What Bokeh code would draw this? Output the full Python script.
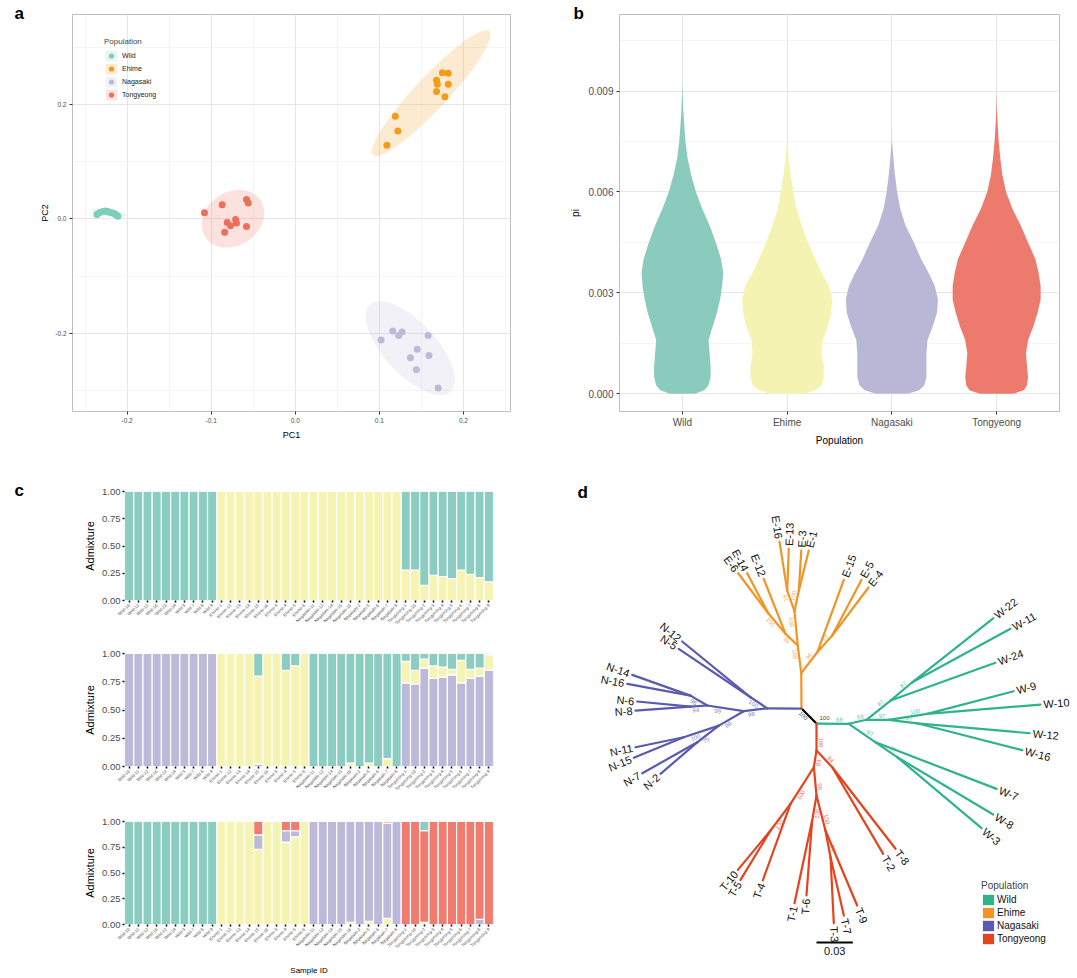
import math
import numpy as np
from bokeh.plotting import figure
from bokeh.layouts import row, column
from bokeh.models import (Range1d, FixedTicker, PrintfTickFormatter, Label, Legend, Title,
                          LegendItem, ColumnDataSource, FactorRange)
from bokeh.embed import file_html
from bokeh.resources import INLINE
from bokeh.core.properties import value

FONT = "Liberation Sans"
TICK_COLOR = "#333333"
TEXT_GRAY = "#4D4D4D"

populations = ["Wild", "Ehime", "Nagasaki", "Tongyeong"]

# ---------------- (a) PCA ----------------
wild_pc1 = [-0.236, -0.233, -0.229, -0.226, -0.223, -0.221, -0.218, -0.215, -0.213, -0.211]
wild_pc2 = [0.008, 0.011, 0.013, 0.014, 0.013, 0.012, 0.011, 0.009, 0.007, 0.005]
ehime_pc1 = [0.175, 0.182, 0.168, 0.169, 0.182, 0.168, 0.178, 0.119, 0.122, 0.109]
ehime_pc2 = [0.256, 0.255, 0.243, 0.236, 0.236, 0.223, 0.214, 0.180, 0.154, 0.129]
nagasaki_pc1 = [0.102, 0.116, 0.123, 0.127, 0.158, 0.145, 0.137, 0.159, 0.144, 0.170]
nagasaki_pc2 = [-0.212, -0.196, -0.204, -0.198, -0.204, -0.228, -0.243, -0.239, -0.264, -0.296]
tongyeong_pc1 = [-0.108, -0.087, -0.058, -0.056, -0.081, -0.077, -0.071, -0.070, -0.058, -0.084]
tongyeong_pc2 = [0.011, 0.025, 0.034, 0.028, -0.006, -0.012, -0.001, -0.007, -0.013, -0.023]
pca_colors = ["#7FCDBB", "#F39B1B", "#BDB9DB", "#EE6E5E"]
ellipse_f_quantile = 4.2565  # qf(0.95, 2, 9)

# ---------------- (b) violin (pi) ----------------
pi_grid = [0.0, 0.0001, 0.00025, 0.0005, 0.0008, 0.0012, 0.0016, 0.002, 0.0024, 0.0028,
           0.0032, 0.0036, 0.004, 0.0045, 0.005, 0.0055, 0.006, 0.0065, 0.007, 0.0075,
           0.008, 0.0085, 0.009, 0.0093]
pi_hw_wild = [0.12, 0.21, 0.25, 0.27, 0.27, 0.26, 0.25, 0.29, 0.33, 0.36, 0.38, 0.39, 0.37,
              0.32, 0.26, 0.19, 0.13, 0.085, 0.05, 0.03, 0.018, 0.008, 0.002, 0.0]
pi_hw_ehime = [0.16, 0.27, 0.33, 0.35, 0.35, 0.33, 0.34, 0.39, 0.42, 0.43, 0.40, 0.33, 0.27,
               0.20, 0.14, 0.09, 0.06, 0.035, 0.015, 0.002, 0.0, 0.0, 0.0, 0.0]
pi_hw_nagasaki = [0.15, 0.26, 0.31, 0.33, 0.33, 0.33, 0.34, 0.39, 0.43, 0.44, 0.41, 0.35, 0.28,
                  0.21, 0.13, 0.08, 0.05, 0.03, 0.015, 0.002, 0.0, 0.0, 0.0, 0.0]
pi_hw_tongyeong = [0.16, 0.26, 0.29, 0.30, 0.29, 0.28, 0.30, 0.35, 0.39, 0.42, 0.42, 0.40, 0.37,
                   0.30, 0.23, 0.15, 0.09, 0.055, 0.035, 0.02, 0.01, 0.003, 0.0, 0.0]
violin_colors = ["#8BCBBE", "#F5F3B1", "#BAB6D6", "#ED7B6D"]

# ---------------- (c) admixture ----------------
samples = ["Wild-10", "Wild-11", "Wild-12", "Wild-16", "Wild-22", "Wild-24", "Wild-3", "Wild-7", "Wild-8", "Wild-9",
           "Ehime-1", "Ehime-12", "Ehime-13", "Ehime-14", "Ehime-15", "Ehime-16", "Ehime-3", "Ehime-4", "Ehime-5", "Ehime-6",
           "Nagasaki-11", "Nagasaki-12", "Nagasaki-14", "Nagasaki-15", "Nagasaki-16", "Nagasaki-2", "Nagasaki-5", "Nagasaki-6", "Nagasaki-7", "Nagasaki-8",
           "Tongyeong-1", "Tongyeong-10", "Tongyeong-2", "Tongyeong-3", "Tongyeong-4", "Tongyeong-5", "Tongyeong-6", "Tongyeong-7", "Tongyeong-8", "Tongyeong-9"]

k2_yellow = [0, 0, 0, 0, 0, 0, 0, 0, 0, 0,
             1, 1, 1, 1, 1, 1, 1, 1, 1, 1,
             1, 1, 1, 1, 1, 1, 1, 1, 1, 1,
             0.28, 0.28, 0.14, 0.23, 0.22, 0.20, 0.28, 0.24, 0.21, 0.17]
k2_teal = [1, 1, 1, 1, 1, 1, 1, 1, 1, 1,
           0, 0, 0, 0, 0, 0, 0, 0, 0, 0,
           0, 0, 0, 0, 0, 0, 0, 0, 0, 0,
           0.72, 0.72, 0.86, 0.77, 0.78, 0.80, 0.72, 0.76, 0.79, 0.83]

k3_purple = [1, 1, 1, 1, 1, 1, 1, 1, 1, 1,
             0, 0, 0, 0, 0.02, 0, 0, 0, 0, 0,
             0, 0, 0, 0, 0, 0, 0, 0, 0, 0,
             0.74, 0.73, 0.87, 0.78, 0.79, 0.81, 0.74, 0.78, 0.80, 0.85]
k3_yellow = [0, 0, 0, 0, 0, 0, 0, 0, 0, 0,
             1, 1, 1, 1, 0.78, 1, 1, 0.85, 0.89, 1,
             0, 0, 0, 0, 0.03, 0, 0.03, 0, 0.07, 0,
             0.19, 0.12, 0.08, 0.11, 0.09, 0.05, 0.20, 0.08, 0.07, 0.14]
k3_teal = [0, 0, 0, 0, 0, 0, 0, 0, 0, 0,
           0, 0, 0, 0, 0.20, 0, 0, 0.15, 0.11, 0,
           1, 1, 1, 1, 0.97, 1, 0.97, 1, 0.93, 1,
           0.07, 0.15, 0.05, 0.11, 0.12, 0.14, 0.06, 0.14, 0.13, 0.01]

k4_yellow = [0, 0, 0, 0, 0, 0, 0, 0, 0, 0,
             1, 1, 1, 1, 0.73, 1, 1, 0.80, 0.85, 1,
             0, 0, 0, 0, 0.02, 0, 0.03, 0, 0.06, 0,
             0, 0, 0.02, 0, 0, 0, 0, 0, 0, 0]
k4_purple = [0, 0, 0, 0, 0, 0, 0, 0, 0, 0,
             0, 0, 0, 0, 0.14, 0, 0, 0.11, 0.06, 0,
             1, 1, 1, 1, 0.98, 1, 0.97, 1, 0.925, 1,
             0, 0, 0, 0, 0, 0, 0, 0, 0.05, 0]
k4_red = [0, 0, 0, 0, 0, 0, 0, 0, 0, 0,
          0, 0, 0, 0, 0.13, 0, 0, 0.09, 0.09, 0,
          0, 0, 0, 0, 0, 0, 0, 0, 0.015, 0,
          1, 1, 0.89, 1, 1, 1, 1, 1, 0.95, 1]
k4_teal = [1, 1, 1, 1, 1, 1, 1, 1, 1, 1,
           0, 0, 0, 0, 0, 0, 0, 0, 0, 0,
           0, 0, 0, 0, 0, 0, 0, 0, 0, 0,
           0, 0, 0.09, 0, 0, 0, 0, 0, 0, 0]

AD_TEAL, AD_YELLOW, AD_PURPLE, AD_RED = "#8BCDC0", "#F6F4B3", "#BDB9D9", "#EF7C6E"

# ---------------- (d) NJ tree (coordinates in 0.001 substitutions/site) ----------------
tree_node = ["B", "A", "E0", "Ea", "Eb", "Ej", "E-16", "E-13", "Eh", "E-3", "E-1", "Eg", "E-12", "Em", "E-6", "E-14",
             "Ed", "E-15", "Ee", "E-5", "E-4",
             "N0", "Na", "N-12", "N-5", "Nb", "Nc", "Nd", "N-14", "N-16", "Nh", "N-6", "N-8", "Ne", "Nf", "N-11",
             "N-15", "Ng", "N-7", "N-2",
             "W0", "Wa", "Wb", "W-24", "Wc", "W-22", "W-11", "Wd", "We", "W-9", "W-10", "Wf", "W-12", "W-16",
             "Wg", "W-7", "Wh", "W-8", "W-3",
             "T0", "Tf", "T-8", "T-2", "Ta", "Tb", "T-4", "Tc", "T-10", "T-5", "Te", "Tg", "T-1", "T-6", "Th",
             "T-9", "Ti", "T-3", "T-7"]
tree_parent = [None, "B", "A", "E0", "Ea", "Eb", "Ej", "Ej", "Eb", "Eh", "Eh", "Ea", "Eg", "Eg", "Em", "Em",
               "E0", "Ed", "Ed", "Ee", "Ee",
               "A", "N0", "Na", "Na", "N0", "Nb", "Nc", "Nd", "Nd", "Nc", "Nh", "Nh", "Nb", "Ne", "Nf",
               "Nf", "Ne", "Ng", "Ng",
               "B", "W0", "Wa", "Wb", "Wb", "Wc", "Wc", "Wa", "Wd", "We", "We", "Wd", "Wf", "Wf",
               "W0", "Wg", "Wg", "Wh", "Wh",
               "B", "T0", "Tf", "Tf", "T0", "Ta", "Tb", "Tb", "Tc", "Tc", "Ta", "Te", "Tg", "Tg", "Te",
               "Th", "Th", "Ti", "Ti"]
tree_x = [0.0, -12.4, -12.6, -15.5, -18.2, -24.2, -30.6, -22.9, -14.6, -12.6, -6.4, -25.6, -43.6, -39.7, -64.7, -57.3,
          0.6, 22.6, 13.0, 37.2, 43.0,
          -40.7, -54.5, -111.0, -113.9, -60.1, -90.3, -104.1, -152.3, -156.4, -104.1, -148.2, -149.6, -80.7, -109.7, -149.6,
          -151.0, -98.6, -144.0, -128.9,
          26.7, 41.3, 61.2, 147.9, 79.1, 146.0, 160.3, 59.7, 91.5, 163.0, 185.1, 83.2, 176.3, 170.0,
          48.8, 148.8, 66.7, 146.0, 136.4,
          0.0, 13.0, 65.3, 55.1, -2.2, -21.5, -44.4, -38.0, -65.0, -62.8, 0.0, -3.6, -18.2, -8.3, 7.4,
          33.6, 11.6, 14.3, 22.6]
tree_y = [0.0, 12.4, 41.6, 64.5, 92.8, 109.9, 150.4, 144.4, 109.9, 143.0, 143.0, 74.1, 119.6, 90.9, 124.2, 124.2,
          58.9, 118.8, 72.7, 118.8, 112.4,
          12.6, 21.7, 67.8, 61.7, 10.2, 14.9, 23.1, 40.2, 32.8, 14.0, 18.2, 10.7, -1.7, -11.3, -19.6,
          -28.3, -15.5, -41.1, -41.6,
          -0.2, 3.1, 19.0, 50.2, 34.1, 87.0, 78.3, 3.1, 8.0, 26.7, 15.7, 0.2, -8.0, -22.0,
          -15.5, -54.0, -27.8, -75.2, -86.5,
          -22.3, -36.1, -103.5, -107.7, -36.1, -66.4, -129.7, -88.4, -120.9, -129.2, -59.5, -80.2, -148.5, -142.1, -88.4,
          -150.4, -110.5, -165.0, -158.7]
tree_support = [100, 100, None, 100, 100, 91, None, None, 100, None, None, 98, None, 100, None, None,
                96, None, 73, None, None,
                None, 100, None, None, 98, 99, 96, None, None, 94, None, None, 99, 100, None,
                None, 75, None, None,
                68, 69, 87, None, 87, None, None, 97, 100, None, None, 97, None, None,
                97, None, 67, None, None,
                100, 94, None, None, 83, 100, None, 100, None, None, 96, 100, None, None, 100,
                None, 89, None, None]
tree_colors = {"root": "#000000", "Wild": "#2FB38A", "Ehime": "#F29424",
               "Nagasaki": "#5A5BAF", "Tongyeong": "#E4431F"}
scale_bar_length = 0.03


# ================= helpers =================
def style_axes(p, tick_size, title_size):
    for ax in p.axis:
        ax.axis_line_color = None
        ax.major_tick_line_color = TICK_COLOR
        ax.major_tick_out = 3
        ax.major_tick_in = 0
        ax.minor_tick_line_color = None
        ax.major_label_text_font = FONT
        ax.major_label_text_font_size = tick_size
        ax.major_label_text_color = TEXT_GRAY
        ax.axis_label_text_font = FONT
        ax.axis_label_text_font_size = title_size
        ax.axis_label_text_font_style = "normal"
        ax.axis_label_text_color = "#000000"
        ax.major_label_standoff = 2
        ax.axis_label_standoff = 4


def panel_letter_title(p, text, offset):
    t = Title(text=text, align="left", vertical_align="bottom", offset=offset,
              text_font=FONT, text_font_size="17px", text_font_style="bold", text_color="#000000")
    try:
        t.standoff = -16
    except Exception:
        t.standoff = 0
    p.add_layout(t, "above")


def stat_ellipse(xs, ys, f_quant, segments=61):
    X = np.column_stack([xs, ys]).astype(float)
    n, p = X.shape
    nu = 5
    loc = X.mean(axis=0)
    w = np.ones(n)
    Xc = X - loc
    for _ in range(25):
        w0 = w
        Xc = X - loc
        A = np.sqrt(w / w.sum())[:, None] * Xc
        _, d, vt = np.linalg.svd(A, full_matrices=False)
        wX = Xc @ vt.T @ np.diag(1.0 / d)
        Q = (wX ** 2).sum(axis=1)
        w = (nu + p) / (nu + Q)
        loc = (w[:, None] * X).sum(axis=0) / w.sum()
        if np.all(np.abs(w - w0) < 0.01):
            break
    sw = np.sqrt(w)[:, None] * Xc
    cov = sw.T @ sw / n
    L = np.linalg.cholesky(cov)
    radius = math.sqrt(2 * f_quant)
    ang = np.linspace(0, 2 * np.pi, segments)
    circ = np.column_stack([np.cos(ang), np.sin(ang)])
    pts = loc + radius * circ @ L.T
    return pts[:, 0].tolist(), pts[:, 1].tolist()


# ================= (a) =================
fa = figure(width=548, height=448, x_range=Range1d(-0.265, 0.256), y_range=Range1d(-0.337, 0.358),
            output_backend="svg", toolbar_location=None, x_axis_label="PC1", y_axis_label="PC2",
            min_border_left=72, min_border_right=38, min_border_top=14, min_border_bottom=34)
fa.outline_line_color = "#BFBFBF"
fa.xaxis.ticker = FixedTicker(ticks=[-0.2, -0.1, 0.0, 0.1, 0.2],
                              minor_ticks=[-0.25, -0.15, -0.05, 0.05, 0.15, 0.25])
fa.yaxis.ticker = FixedTicker(ticks=[-0.2, 0.0, 0.2], minor_ticks=[-0.3, -0.1, 0.1, 0.3])
fa.xaxis.formatter = PrintfTickFormatter(format="%.1f")
fa.yaxis.formatter = PrintfTickFormatter(format="%.1f")
for g in (fa.xgrid, fa.ygrid):
    g.grid_line_color = "#E6E6E6"
    g.grid_line_width = 1
    g.minor_grid_line_color = "#EFEFEF"
    g.minor_grid_line_width = 0.6
style_axes(fa, "6.5px", "9px")
fa.yaxis.axis_label_standoff = 2

pca_sets = [(wild_pc1, wild_pc2), (ehime_pc1, ehime_pc2), (nagasaki_pc1, nagasaki_pc2),
            (tongyeong_pc1, tongyeong_pc2)]
items_a = []
for name, (xs, ys), col in zip(populations, pca_sets, pca_colors):
    ex, ey = stat_ellipse(xs, ys, ellipse_f_quantile)
    pr = fa.patch(ex, ey, fill_color=col, fill_alpha=0.2, line_color=None)
    sr = fa.scatter(xs, ys, size=7, fill_color=col, line_color=None)
    items_a.append(LegendItem(label=name, renderers=[pr, sr]))
leg_a = Legend(items=items_a, location=(32, 310), title="Population",
               title_text_font=FONT, title_text_font_size="8px", title_text_font_style="normal",
               title_standoff=3, label_text_font=FONT, label_text_font_size="7px",
               label_text_color="#222222", glyph_height=13, glyph_width=14, label_height=13,
               label_standoff=4, spacing=0, padding=0, margin=0,
               background_fill_alpha=0, border_line_alpha=0)
fa.add_layout(leg_a)
panel_letter_title(fa, "a", -58)

# ================= (b) =================
fb = figure(width=529, height=448, x_range=Range1d(0.4, 4.6), y_range=Range1d(-0.00053, 0.01128),
            output_backend="svg", toolbar_location=None, x_axis_label="Population", y_axis_label="pi",
            min_border_left=71, min_border_right=18, min_border_top=14, min_border_bottom=35)
fb.outline_line_color = "#BFBFBF"
fb.xaxis.ticker = FixedTicker(ticks=[1, 2, 3, 4])
fb.xaxis.major_label_overrides = {i + 1: n for i, n in enumerate(populations)}
fb.yaxis.ticker = FixedTicker(ticks=[0.0, 0.003, 0.006, 0.009],
                              minor_ticks=[0.0015, 0.0045, 0.0075, 0.0105])
fb.yaxis.formatter = PrintfTickFormatter(format="%.3f")
fb.xgrid.grid_line_color = "#E6E6E6"
fb.ygrid.grid_line_color = "#E6E6E6"
fb.ygrid.minor_grid_line_color = "#EFEFEF"
fb.ygrid.minor_grid_line_width = 0.6
style_axes(fb, "10px", "10px")

for i, (hw, col) in enumerate(zip([pi_hw_wild, pi_hw_ehime, pi_hw_nagasaki, pi_hw_tongyeong],
                                  violin_colors)):
    c = i + 1
    xs = [c + h for h in hw] + [c - h for h in reversed(hw)]
    ys = list(pi_grid) + list(reversed(pi_grid))
    fb.patch(xs, ys, fill_color=col, line_color=None)
panel_letter_title(fb, "b", -46)


# ================= (c) =================
def admix_figure(height, top, bottom, cols, colors, xlabel=None):
    names = ["s%d" % k for k in range(len(cols))]
    data = {"sample": samples}
    for nm, v in zip(names, cols):
        data[nm] = v
    src = ColumnDataSource(data=data)
    p = figure(width=548, height=height, x_range=FactorRange(factors=samples, range_padding=0),
               y_range=Range1d(0, 1), output_backend="svg", toolbar_location=None,
               y_axis_label="Admixture", x_axis_label=xlabel,
               min_border_left=124, min_border_right=55, min_border_top=top, min_border_bottom=bottom)
    p.vbar_stack(names, x="sample", width=1.0, fill_color=colors, line_color="white",
                 line_width=1.2, source=src)
    p.outline_line_color = None
    p.xgrid.visible = False
    p.ygrid.visible = False
    p.yaxis.ticker = FixedTicker(ticks=[0, 0.25, 0.5, 0.75, 1.0])
    p.yaxis.formatter = PrintfTickFormatter(format="%.2f")
    style_axes(p, "9.5px", "11px")
    for ax in p.axis:
        ax.major_tick_out = 2
        ax.major_tick_line_width = 1.6
        ax.major_tick_line_color = "#111111"
    p.xaxis.major_label_orientation = math.pi / 4
    p.xaxis.major_label_text_font_size = "4.3px"
    p.xaxis.major_label_standoff = 2
    p.xaxis.axis_label_text_font_size = "8px"
    p.xaxis.axis_label_standoff = 12
    p.yaxis.axis_label_standoff = 3
    return p


c1 = admix_figure(182, 43, 26, [k2_yellow, k2_teal], [AD_YELLOW, AD_TEAL])
c2 = admix_figure(167, 23, 31, [k3_purple, k3_yellow, k3_teal], [AD_PURPLE, AD_YELLOW, AD_TEAL])
c3 = admix_figure(181, 24, 45, [k4_yellow, k4_purple, k4_red, k4_teal],
                  [AD_YELLOW, AD_PURPLE, AD_RED, AD_TEAL], xlabel="Sample ID")
panel_letter_title(c1, "c", -110)

# ================= (d) =================
fd = figure(width=529, height=530, x_range=Range1d(-221.5, 215.7), y_range=Range1d(-210.7, 227.3),
            output_backend="svg", toolbar_location=None, x_axis_type=None, y_axis_type=None,
            min_border=0, min_border_left=0, min_border_right=0, min_border_top=0, min_border_bottom=0)
fd.outline_line_color = None
fd.xgrid.visible = False
fd.ygrid.visible = False

idx = {n: i for i, n in enumerate(tree_node)}
internal = set(p for p in tree_parent if p is not None)


def group_of(name):
    if name in ("A", "B"):
        return "root"
    return {"E": "Ehime", "N": "Nagasaki", "W": "Wild", "T": "Tongyeong"}[name[0]]


seg = dict(x0=[], y0=[], x1=[], y1=[], color=[])
tips = dict(x=[], y=[], text=[], angle=[], align=[], xo=[], yo=[])
boots = dict(x=[], y=[], text=[], angle=[], color=[], xo=[], yo=[])
for i, name in enumerate(tree_node):
    par = tree_parent[i]
    x1, y1 = tree_x[i], tree_y[i]
    if par is None:
        if tree_support[i] is not None:
            boots["x"].append(x1); boots["y"].append(y1); boots["text"].append(str(tree_support[i]))
            boots["angle"].append(0.0); boots["color"].append("#000000")
            boots["xo"].append(8.0); boots["yo"].append(-6.0)
        continue
    j = idx[par]
    x0, y0 = tree_x[j], tree_y[j]
    col = tree_colors[group_of(name)]
    seg["x0"].append(x0); seg["y0"].append(y0); seg["x1"].append(x1); seg["y1"].append(y1)
    seg["color"].append(col)
    ang = math.atan2(y1 - y0, x1 - x0)
    if name not in internal:
        flip = math.cos(ang) < 0
        tips["x"].append(x1); tips["y"].append(y1); tips["text"].append(name)
        tips["angle"].append(ang - math.pi if flip else ang)
        tips["align"].append("right" if flip else "left")
        tips["xo"].append(3 * math.cos(ang)); tips["yo"].append(-3 * math.sin(ang))
    if tree_support[i] is not None:
        f = 0.7
        bx, by = x0 + f * (x1 - x0), y0 + f * (y1 - y0)
        flip = math.cos(ang) < -1e-9
        boots["x"].append(bx); boots["y"].append(by); boots["text"].append(str(tree_support[i]))
        boots["angle"].append(ang - math.pi if flip else ang)
        boots["color"].append(col)
        boots["xo"].append(-4 * math.sin(ang)); boots["yo"].append(-4 * math.cos(ang))

fd.segment(x0="x0", y0="y0", x1="x1", y1="y1", line_color="color", line_width=2.2,
           line_cap="round", source=ColumnDataSource(seg))
fd.text(x="x", y="y", text="text", angle="angle", text_align="align", x_offset="xo", y_offset="yo",
        text_baseline="middle", text_font=value(FONT), text_font_size="11px", text_color="#111111",
        source=ColumnDataSource(tips))
fd.text(x="x", y="y", text="text", angle="angle", x_offset="xo", y_offset="yo", text_color="color",
        text_alpha=0.8, text_align="center", text_baseline="middle", text_font=value(FONT),
        text_font_size="6px", source=ColumnDataSource(boots))

bar_y = min(tree_y) - 16
bar_len = scale_bar_length * 1000
fd.segment(x0=[0.0], y0=[bar_y], x1=[bar_len], y1=[bar_y], line_color="#000000", line_width=2)
fd.text(x=[bar_len / 2], y=[bar_y], text=[str(scale_bar_length)], y_offset=4, text_align="center",
        text_baseline="top", text_font=value(FONT), text_font_size="11px", text_color="#111111")

items_d = []
for gname in populations:
    # zero-area swatch anchored on the root node, used only for the legend key
    r = fd.quad(left=[tree_x[0]], right=[tree_x[0]], top=[tree_y[0]], bottom=[tree_y[0]],
                fill_color=tree_colors[gname], line_color=None)
    items_d.append(LegendItem(label=gname, renderers=[r]))
leg_d = Legend(items=items_d, location=(433, 33), title="Population",
               title_text_font=FONT, title_text_font_size="10px", title_text_font_style="normal",
               title_standoff=2, label_text_font=FONT, label_text_font_size="10px",
               label_text_color="#111111", glyph_height=13, glyph_width=14, label_height=13,
               label_standoff=2, spacing=0, padding=0, margin=0,
               background_fill_alpha=0, border_line_alpha=0)
fd.add_layout(leg_d)
fd.add_layout(Label(x=29, y=486, x_units="screen", y_units="screen", text="d",
                    text_font=FONT, text_font_size="17px", text_font_style="bold",
                    text_baseline="middle", text_align="left", text_color="#000000"))

layout = column(row(fa, fb), row(column(c1, c2, c3), fd))
open("out.html", "w").write(file_html(layout, INLINE))
